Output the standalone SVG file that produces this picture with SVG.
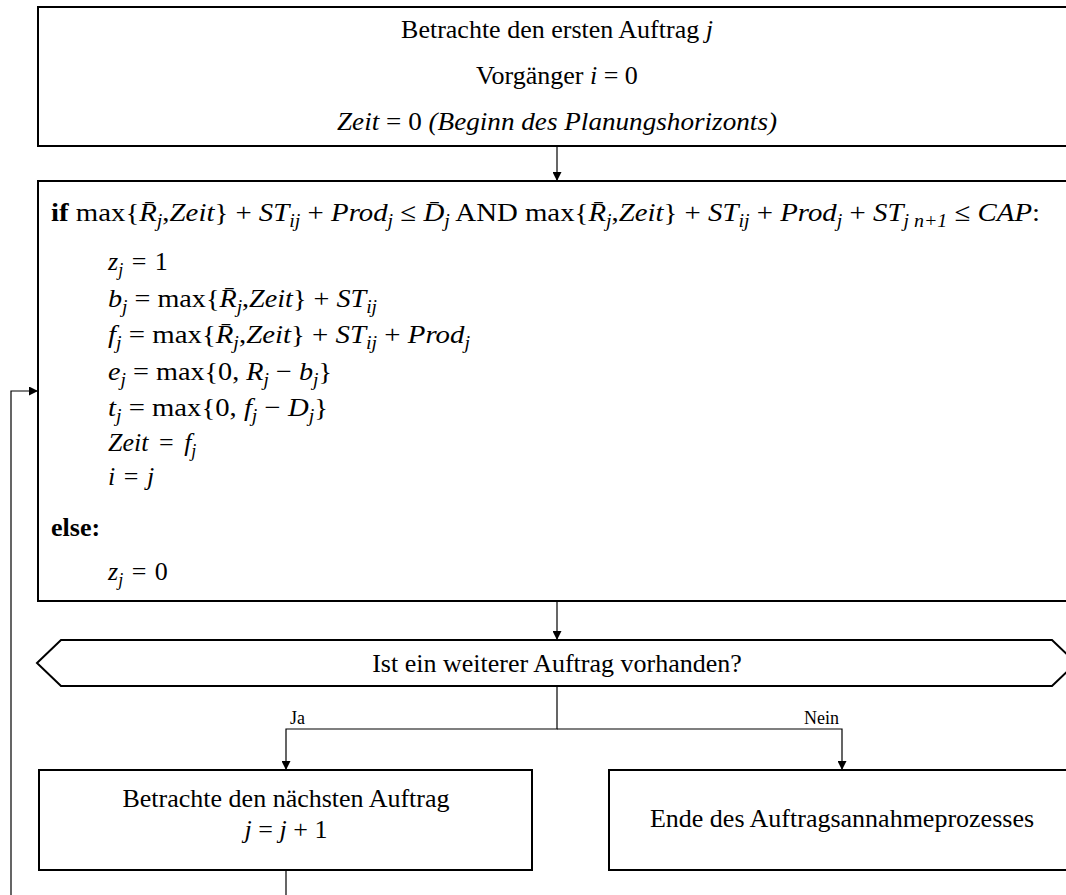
<svg xmlns="http://www.w3.org/2000/svg" width="1066" height="895" viewBox="0 0 1066 895">
  <style>
    .box { fill: #ffffff; stroke: #000000; stroke-width: 2; }
    .ln { fill: none; stroke: #000000; stroke-width: 1.2; }
    .t { font-family: "Liberation Serif", "Times New Roman", serif; font-size: 26px; fill: #000000; }
    .m { font-style: italic; }
    .b { font-weight: bold; }
    .s { font-size: 18px; font-style: italic; }
    .lbl { font-family: "Liberation Serif", "Times New Roman", serif; font-size: 18px; fill: #000000; }
  </style>
  <defs>
    <marker id="arrow" viewBox="0 0 10 10" refX="10" refY="5" markerWidth="10" markerHeight="9" markerUnits="userSpaceOnUse" orient="auto">
      <path d="M0,0 L10,5 L0,10 z" fill="#000000"/>
    </marker>
  </defs>

  <rect width="1066" height="895" fill="#ffffff"/>

  <!-- connectors -->
  <g id="connectors">
    <line class="ln" x1="557" y1="146" x2="557" y2="181" marker-end="url(#arrow)"/>
    <line class="ln" x1="557" y1="601" x2="557" y2="640" marker-end="url(#arrow)"/>
    <polyline class="ln" points="557,686 557,729 286,729 286,770" marker-end="url(#arrow)"/>
    <polyline class="ln" points="557,729 842,729 842,770" marker-end="url(#arrow)"/>
    <polyline class="ln" points="286,870 286,896 11,896 11,391 38,391" marker-end="url(#arrow)"/>
    <text class="lbl" x="290" y="724">Ja</text>
    <text class="lbl" x="839" y="724" text-anchor="end">Nein</text>
  </g>

  <!-- start: first order -->
  <g id="start">
    <rect class="box" x="38" y="7" width="1038" height="139"/>
    <text class="t" x="557" y="38" text-anchor="middle">Betrachte den ersten Auftrag <tspan class="m">j</tspan></text>
    <text class="t" x="557" y="84" text-anchor="middle">Vorgänger <tspan class="m">i</tspan> = 0</text>
    <text class="t" x="337" y="130" textLength="440" lengthAdjust="spacingAndGlyphs"><tspan class="m">Zeit</tspan> = 0 <tspan class="m">(Beginn des Planungshorizonts)</tspan></text>
  </g>

  <!-- acceptance check -->
  <g id="check">
    <rect class="box" x="38" y="181" width="1038" height="420"/>
    <text class="t" x="51" y="221" textLength="989" lengthAdjust="spacingAndGlyphs"><tspan class="b">if</tspan> max{<tspan class="m">R̄</tspan><tspan class="s" dy="6">j</tspan><tspan dy="-6">,</tspan><tspan class="m">Zeit</tspan>} + <tspan class="m">ST</tspan><tspan class="s" dy="6">ij</tspan><tspan dy="-6"> + </tspan><tspan class="m">Prod</tspan><tspan class="s" dy="6">j</tspan><tspan dy="-6"> ≤ </tspan><tspan class="m">D̄</tspan><tspan class="s" dy="6">j</tspan><tspan dy="-6"> AND max{</tspan><tspan class="m">R̄</tspan><tspan class="s" dy="6">j</tspan><tspan dy="-6">,</tspan><tspan class="m">Zeit</tspan>} + <tspan class="m">ST</tspan><tspan class="s" dy="6">ij</tspan><tspan dy="-6"> + </tspan><tspan class="m">Prod</tspan><tspan class="s" dy="6">j</tspan><tspan dy="-6"> + </tspan><tspan class="m">ST</tspan><tspan class="s" dy="6">j n+1</tspan><tspan dy="-6"> ≤ </tspan><tspan class="m">CAP</tspan>:</text>
    <text class="t" x="108" y="270"><tspan class="m">z</tspan><tspan class="s" dy="6">j</tspan><tspan dy="-6" dx="2"> = </tspan><tspan dx="2">1</tspan></text>
    <text class="t" x="108" y="307" textLength="269" lengthAdjust="spacingAndGlyphs"><tspan class="m">b</tspan><tspan class="s" dy="6">j</tspan><tspan dy="-6"> = max{</tspan><tspan class="m">R̄</tspan><tspan class="s" dy="6">j</tspan><tspan dy="-6">,</tspan><tspan class="m">Zeit</tspan>} + <tspan class="m">ST</tspan><tspan class="s" dy="6">ij</tspan></text>
    <text class="t" x="108" y="343" textLength="362" lengthAdjust="spacingAndGlyphs"><tspan class="m">f</tspan><tspan class="s" dy="6">j</tspan><tspan dy="-6"> = max{</tspan><tspan class="m">R̄</tspan><tspan class="s" dy="6">j</tspan><tspan dy="-6">,</tspan><tspan class="m">Zeit</tspan>} + <tspan class="m">ST</tspan><tspan class="s" dy="6">ij</tspan><tspan dy="-6"> + </tspan><tspan class="m">Prod</tspan><tspan class="s" dy="6">j</tspan></text>
    <text class="t" x="108" y="380" textLength="224" lengthAdjust="spacingAndGlyphs"><tspan class="m">e</tspan><tspan class="s" dy="6">j</tspan><tspan dy="-6"> = max{0, </tspan><tspan class="m">R</tspan><tspan class="s" dy="6">j</tspan><tspan dy="-6"> − </tspan><tspan class="m">b</tspan><tspan class="s" dy="6">j</tspan><tspan dy="-6">}</tspan></text>
    <text class="t" x="108" y="416" textLength="220" lengthAdjust="spacingAndGlyphs"><tspan class="m">t</tspan><tspan class="s" dy="6">j</tspan><tspan dy="-6"> = max{0, </tspan><tspan class="m">f</tspan><tspan class="s" dy="6">j</tspan><tspan dy="-6"> − </tspan><tspan class="m">D</tspan><tspan class="s" dy="6">j</tspan><tspan dy="-6">}</tspan></text>
    <text class="t" x="108" y="451"><tspan class="m">Zeit</tspan><tspan dx="4"> = </tspan><tspan class="m" dx="4">f</tspan><tspan class="s" dy="6">j</tspan></text>
    <text class="t" x="108" y="485"><tspan class="m">i</tspan><tspan dx="2"> = </tspan><tspan class="m" dx="2">j</tspan></text>
    <text class="t b" x="51" y="536">else:</text>
    <text class="t" x="108" y="580"><tspan class="m">z</tspan><tspan class="s" dy="6">j</tspan><tspan dy="-6" dx="2"> = </tspan><tspan dx="2">0</tspan></text>
  </g>

  <!-- decision: further order? -->
  <g id="decision">
    <polygon class="box" points="37,663 61,640 1052,640 1076,663 1052,686 61,686"/>
    <text class="t" x="557" y="672" text-anchor="middle">Ist ein weiterer Auftrag vorhanden?</text>
  </g>

  <!-- next order -->
  <g id="next">
    <rect class="box" x="39" y="770" width="493" height="100"/>
    <text class="t" x="286" y="807" text-anchor="middle">Betrachte den nächsten Auftrag</text>
    <text class="t" x="286" y="838" text-anchor="middle"><tspan class="m">j</tspan> = <tspan class="m">j</tspan> + 1</text>
  </g>

  <!-- end of process -->
  <g id="end">
    <rect class="box" x="609" y="770" width="467" height="100"/>
    <text class="t" x="842" y="827" text-anchor="middle">Ende des Auftragsannahmeprozesses</text>
  </g>
</svg>
